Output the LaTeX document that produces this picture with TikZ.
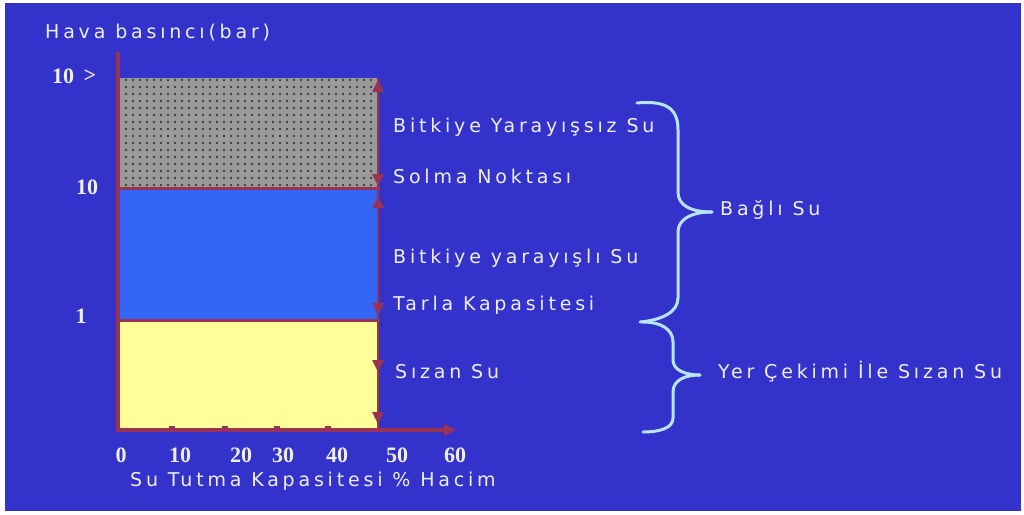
\documentclass[tikz,border=0pt]{standalone}
\usepackage{fontspec}
\setmainfont{Liberation Serif}
\newfontfamily\lblfont[LetterSpace=20]{DejaVu Sans}
\usetikzlibrary{patterns,arrows.meta}
\pgfdeclarepatternformonly{sparsedots}{\pgfqpoint{-2pt}{-2pt}}{\pgfqpoint{2pt}{2pt}}{\pgfqpoint{7pt}{7pt}}{%
  \pgfpathcircle{\pgfqpoint{0pt}{0pt}}{1.4pt}\pgfusepath{fill}}
\definecolor{bgblue}{HTML}{3333CC}
\definecolor{zoneblue}{HTML}{3366F5}
\definecolor{zoneyellow}{HTML}{FFFF99}
\definecolor{zonegray}{HTML}{9A9A9A}
\definecolor{axisred}{HTML}{993355}
\definecolor{bracecol}{HTML}{B8E4FF}
\definecolor{txtcol}{HTML}{EEEEEE}
\tikzset{
  lbl/.style={text=txtcol, font=\lblfont\fontsize{19}{19}\selectfont, inner sep=0pt, anchor=west},
  num/.style={text=txtcol, font=\bfseries\fontsize{22}{22}\selectfont, inner sep=0pt},
  axisline/.style={draw=axisred, line width=4pt},
  bound/.style={draw=axisred, line width=3pt},
  rarrow/.style={draw=axisred, line width=2.5pt, arrows={-Triangle[length=12pt,width=11pt]}},
  bracestyle/.style={draw=bracecol, line width=3pt, line cap=round, line join=round},
  tick/.style={fill=axisred}
}
\begin{document}
\begin{tikzpicture}[x=1pt,y=-1pt]
\useasboundingbox (0,0) rectangle (1024,514);
\fill[white] (0,0) rectangle (1024,514);
\fill[bgblue] (5,3) rectangle (1021,511);
% zones
\fill[zonegray] (120,78) rectangle (378,188);
\fill[pattern=sparsedots, pattern color=black!75] (120,78) rectangle (378,188);
\fill[zoneblue] (120,188) rectangle (378,320);
\fill[zoneyellow] (120,320) rectangle (378,430);
% boundaries
\draw[bound] (120,188) -- (380,188);
\draw[bound] (120,320) -- (380,320);
\draw[draw=axisred, line width=2pt] (378,78) -- (378,430);
% right arrows
\draw[rarrow] (378,140) -- (378,80);
\draw[rarrow] (378,150) -- (378,186);
\draw[rarrow] (378,250) -- (378,196);
\draw[rarrow] (378,260) -- (378,315);
\draw[rarrow] (378,322) -- (378,372);
\draw[rarrow] (378,372) -- (378,424);
% axes
\draw[axisline] (118,432) -- (118,52);
\draw[axisline, arrows={-Triangle[length=12pt,width=11pt]}] (116,430) -- (456,430);
% ticks
\foreach \tx in {172,225,277,328} \fill[tick] (\tx-3,426) rectangle (\tx+3,432);
% axis numbers
\node[num] (y1) at (63,76) {10};
\node[num] (y1g) at (90,76) {>};
\node[num] (y2) at (87,187) {10};
\node[num] (y3) at (81,316) {1};
\node[num] (x0) at (121,455) {0};
\node[num] (x1) at (180,455) {10};
\node[num] (x2) at (241,455) {20};
\node[num] (x3) at (283,455) {30};
\node[num] (x4) at (337,455) {40};
\node[num] (x5) at (397,455) {50};
\node[num] (x6) at (455,455) {60};
% axis titles
\node[lbl] (ytitle) at (45,33) {Hava basıncı(bar)};
\node[lbl] (xtitle) at (130,481) {Su Tutma Kapasitesi \% Hacim};
% zone labels
\node[lbl] (l1) at (393,127) {Bitkiye Yarayışsız Su};
\node[lbl] (l2) at (393,176) {Solma Noktası};
\node[lbl] (l3) at (393,258) {Bitkiye yarayışlı Su};
\node[lbl] (l4) at (393,305) {Tarla Kapasitesi};
\node[lbl] (l5) at (395,372) {Sızan Su};
\node[lbl] (bagli) at (720,210) {Bağlı Su};
\node[lbl] (yercekim) at (718,372) {Yer Çekimi İle Sızan Su};
% braces
\draw[bracestyle] (637,103) .. controls (668,100) and (678,110) .. (678,130) -- (678,192)
  .. controls (678,205) and (690,212) .. (712,212);
\draw[bracestyle] (712,212) .. controls (690,212) and (678,220) .. (678,232) -- (678,298)
  .. controls (678,312) and (662,320) .. (640,322);
\draw[bracestyle] (643,322) .. controls (662,322) and (673,330) .. (673,342) -- (673,360)
  .. controls (673,370) and (685,375) .. (700,375);
\draw[bracestyle] (700,375) .. controls (685,375) and (673,380) .. (673,392) -- (673,418)
  .. controls (673,428) and (660,432) .. (643,432);
\end{tikzpicture}
\end{document}
